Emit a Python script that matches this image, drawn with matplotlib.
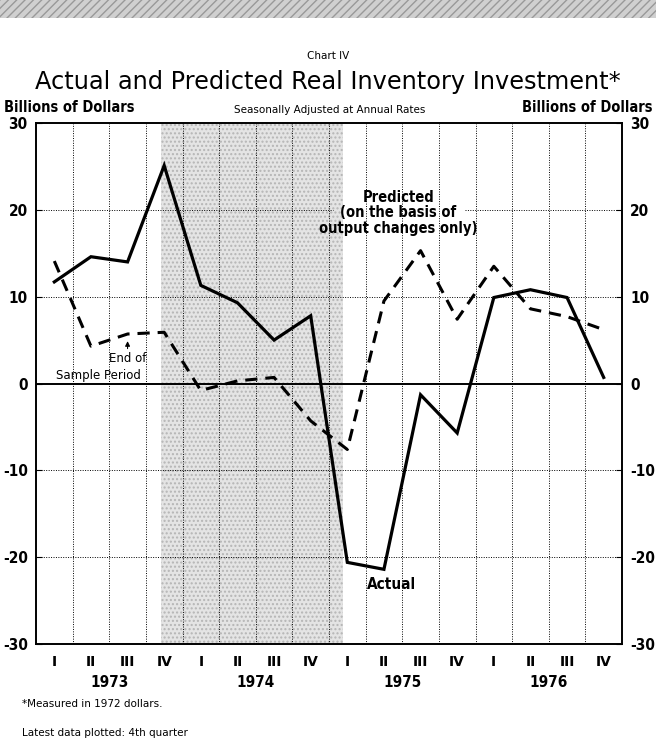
import numpy as np
import matplotlib
matplotlib.use("Agg")
import matplotlib.pyplot as plt
from matplotlib.patches import Rectangle

# quarterly data, 1973 Q1 .. 1976 Q4 (billions of 1972 dollars, SAAR)
quarters = ["I", "II", "III", "IV"] * 4
years = ["1973", "1974", "1975", "1976"]
actual = [11.7, 14.6, 14.0, 25.1, 11.3, 9.3, 5.0, 7.8,
          -20.6, -21.4, -1.3, -5.7, 9.9, 10.8, 9.9, 0.7]
predicted = [14.1, 4.3, 5.7, 5.9, -0.8, 0.3, 0.7, -4.3,
             -7.6, 9.5, 15.3, 7.4, 13.5, 8.6, 7.7, 6.2]
recession = (2.9, 7.87)  # shaded period in quarter index units

x = np.arange(len(actual))
bold = dict(fontweight="bold", fontstretch="condensed", family="DejaVu Sans")

fig = plt.figure(figsize=(6.56, 7.43), dpi=100)
ax = fig.add_axes([36 / 656, 1 - 644 / 743, 586 / 656, 521 / 743])

# top decorative band
fig.patches.append(Rectangle((0, 1 - 18 / 743), 1, 18 / 743, transform=fig.transFigure,
                             facecolor="#d0d0d0", edgecolor="#999999", hatch="////",
                             linewidth=0, zorder=0))

# shaded period
ax.axvspan(*recession, facecolor="#e4e4e4", edgecolor="#b5b5b5", hatch="....",
           linewidth=0, zorder=0)

# grid (the 20 line stops short of the "Predicted" label, as in the original)
for b in np.arange(0.5, 15.5, 1):
    ax.axvline(b, color="black", linestyle=(0, (1, 1.5)), linewidth=0.7, zorder=1)
for v in [-20, -10, 10]:
    ax.axhline(v, color="black", linestyle=(0, (1, 1.5)), linewidth=0.7, zorder=1)
ax.plot([-0.5, 7.6], [20, 20], color="black", linestyle=(0, (1, 1.5)), linewidth=0.7, zorder=1)
ax.plot([11.2, 15.5], [20, 20], color="black", linestyle=(0, (1, 1.5)), linewidth=0.7, zorder=1)
ax.axhline(0, color="black", linewidth=1.4, zorder=2)

ax.plot(x, actual, color="black", linewidth=2.3, solid_joinstyle="miter", zorder=4)
ax.plot(x, predicted, color="black", linewidth=2.2, linestyle=(0, (4, 2.6)), zorder=3)

ax.set_xlim(-0.5, 15.5)
ax.set_ylim(-30, 30)
for s in ax.spines.values():
    s.set_linewidth(1.4)

ax.set_yticks([-30, -20, -10, 0, 10, 20, 30])
ax.set_yticklabels(["-30", "-20", "-10", "0", "10", "20", "30"])
ax.tick_params(axis="y", which="both", left=True, right=True, labelleft=True,
               labelright=True, direction="in", length=4, labelsize=11, pad=6)
for lab in ax.get_yticklabels():
    lab.set_fontweight("bold")
    lab.set_fontstretch("condensed")

ax.set_xticks(x)
ax.set_xticklabels(quarters, fontsize=10, fontweight="bold")
ax.tick_params(axis="x", length=0, pad=8)

for i, yr in enumerate(years):
    ax.text(1.5 + 4 * i, -33.6, yr, ha="center", va="top", fontsize=11, **bold)

# annotations
ax.text(9.4, 17.0, "Predicted\n(on the basis of\noutput changes only)", ha="center",
        va="bottom", fontsize=10.5, linespacing=1.05, zorder=5, **bold)
ax.text(9.2, -22.3, "Actual", ha="center", va="top", fontsize=11, **bold)
ax.text(2.0, 2.9, "End of", ha="center", va="center", fontsize=8.5)
ax.text(1.2, 0.9, "Sample Period", ha="center", va="center", fontsize=8.5)
ax.annotate("", xy=(2.0, 5.2), xytext=(2.0, 3.7),
            arrowprops=dict(arrowstyle="-|>", color="black", lw=0.8, mutation_scale=7))

# titles and axis captions
fig.text(0.5, 1 - 56 / 743, "Chart IV", ha="center", va="center", fontsize=7.5)
fig.text(0.5, 1 - 82 / 743, "Actual and Predicted Real Inventory Investment*",
         ha="center", va="center", fontsize=17.3)
fig.text(4 / 656, 1 - 108 / 743, "Billions of Dollars", ha="left", va="center",
         fontsize=10.5, **bold)
fig.text(652 / 656, 1 - 108 / 743, "Billions of Dollars", ha="right", va="center",
         fontsize=10.5, **bold)
fig.text(330 / 656, 1 - 110 / 743, "Seasonally Adjusted at Annual Rates", ha="center",
         va="center", fontsize=7.5)

# footnotes
fig.text(22 / 656, 1 - 704 / 743, "*Measured in 1972 dollars.", ha="left", va="center",
         fontsize=7.5)
fig.text(22 / 656, 1 - 733 / 743, "Latest data plotted: 4th quarter", ha="left",
         va="center", fontsize=7.5)

fig.savefig("out.png", dpi=100)
